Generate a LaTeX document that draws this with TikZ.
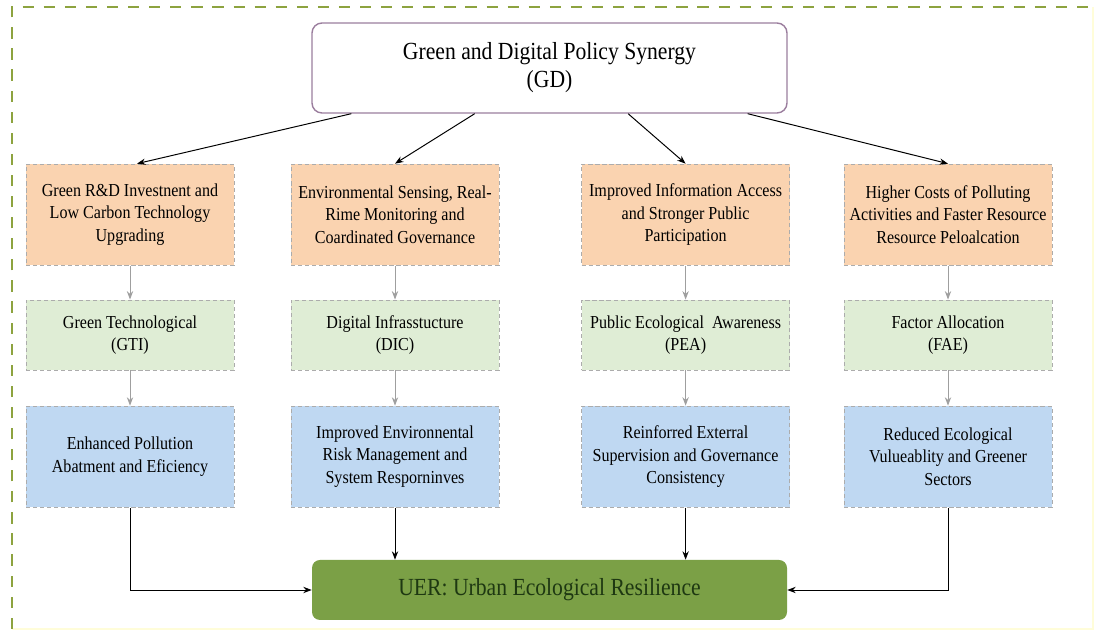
\documentclass[tikz,border=0pt]{standalone}
\usepackage{fontspec}
\setmainfont{Liberation Serif}
\newfontfamily\narrowserif[FakeStretch=0.88]{Liberation Serif}
\usetikzlibrary{calc,arrows.meta}

\definecolor{gdpurple}{HTML}{9B7E9E}
\definecolor{mechorange}{HTML}{FAD3B0}
\definecolor{medgreen}{HTML}{DFEDD5}
\definecolor{effblue}{HTML}{BFD8F2}
\definecolor{uergreen}{HTML}{7BA046}
\definecolor{uertext}{HTML}{1E3812}
\definecolor{frameolive}{HTML}{8DA33F}

\begin{document}
\begin{tikzpicture}[>={Stealth[length=6pt,width=4.5pt]},
    box/.style={draw=gray!65, dash pattern=on 3pt off 2pt, line width=0.6pt,
        minimum width=5.2cm, inner sep=2pt, align=center,
        font=\narrowserif\fontsize{13}{16}\selectfont},
    mechbox/.style={box, fill=mechorange, minimum height=2.525cm},
    medbox/.style={box, fill=medgreen, minimum height=1.75cm},
    effbox/.style={box, fill=effblue, minimum height=2.525cm},
    blackarrow/.style={->, black, line width=0.7pt},
    grayarrow/.style={->, gray!75, line width=0.7pt}]

    \useasboundingbox (0,0) rectangle (27.425,15.775);

    % 1. 外框
    \draw[yellow!15, line width=0.8pt] (0.3,0.05) -- (27.325,0.05) -- (27.325,15.6);
    \draw[frameolive, line width=1.4pt, dash pattern=on 8pt off 7pt]
        (0.3,0.05) -- (0.3,15.6) -- (27.325,15.6);

    % 2. 顶部政策框
    \node[draw=gdpurple, line width=1pt, rounded corners=0.25cm, fill=white,
        minimum width=11.875cm, minimum height=2.25cm, align=center,
        font=\narrowserif\fontsize{17.5}{20}\selectfont] (gd) at (13.7375,14.075)
        {Green and Digital Policy Synergy\\(GD)};

    % 3. 第一层: 作用渠道
    \node[mechbox] (m1) at (3.25,10.41) {Green R\&D Investnent and\\Low Carbon Technology\\Upgrading};
    \node[mechbox] (m2) at (9.875,10.41) {Environmental Sensing, Real-\\Rime Monitoring and\\Coardinated Governance};
    \node[mechbox] (m3) at (17.14,10.41) {Improved Information Access\\and Stronger Public\\Participation};
    \node[mechbox] (m4) at (23.7,10.41) {Higher Costs of Polluting\\Activities and Faster Resource\\Resource Peloalcation};

    % 4. 第二层: 中介变量
    \node[medbox] (g1) at (3.25,7.4) {Green Technological\\(GTI)};
    \node[medbox] (g2) at (9.875,7.4) {Digital Infrasstucture\\(DIC)};
    \node[medbox] (g3) at (17.14,7.4) {Public Ecological~ Awareness\\(PEA)};
    \node[medbox] (g4) at (23.7,7.4) {Factor Allocation\\(FAE)};

    % 5. 第三层: 效应
    \node[effbox] (e1) at (3.25,4.36) {Enhanced Pollution\\Abatment and Eficiency};
    \node[effbox] (e2) at (9.875,4.36) {Improved Environnental\\Risk Management and\\System Resporninves};
    \node[effbox] (e3) at (17.14,4.36) {Reinforred Exterral\\Supervision and Governance\\Consistency};
    \node[effbox] (e4) at (23.7,4.36) {Reduced Ecological\\Vulueablity and Greener\\Sectors};

    % 6. 底部结果框
    \node[fill=uergreen, rounded corners=0.2cm, text=uertext,
        minimum width=11.875cm, minimum height=1.5cm,
        font=\narrowserif\fontsize{17.5}{20}\selectfont] (uer) at (13.7375,1.025)
        {UER: Urban Ecological Resilience};

    % 7. GD 指向各渠道
    \draw[blackarrow] ($(gd.south west)!0.084!(gd.south east)$) -- ([xshift=0.175cm]m1.north);
    \draw[blackarrow] ($(gd.south west)!0.343!(gd.south east)$) -- (m2.north);
    \draw[blackarrow] ($(gd.south west)!0.665!(gd.south east)$) -- (m3.north);
    \draw[blackarrow] ($(gd.south west)!0.916!(gd.south east)$) -- (m4.north);

    % 8. 列内灰色箭头
    \draw[grayarrow] (m1.south) -- (g1.north);
    \draw[grayarrow] (m2.south) -- (g2.north);
    \draw[grayarrow] (m3.south) -- (g3.north);
    \draw[grayarrow] (m4.south) -- (g4.north);
    \draw[grayarrow] (g1.south) -- (e1.north);
    \draw[grayarrow] (g2.south) -- (e2.north);
    \draw[grayarrow] (g3.south) -- (e3.north);
    \draw[grayarrow] (g4.south) -- (e4.north);

    % 9. 汇入 UER
    \draw[blackarrow] (e1.south) |- (uer.west);
    \draw[blackarrow] (e2.south) -- (e2.south |- uer.north);
    \draw[blackarrow] (e3.south) -- (e3.south |- uer.north);
    \draw[blackarrow] (e4.south) |- (uer.east);

\end{tikzpicture}
\end{document}
